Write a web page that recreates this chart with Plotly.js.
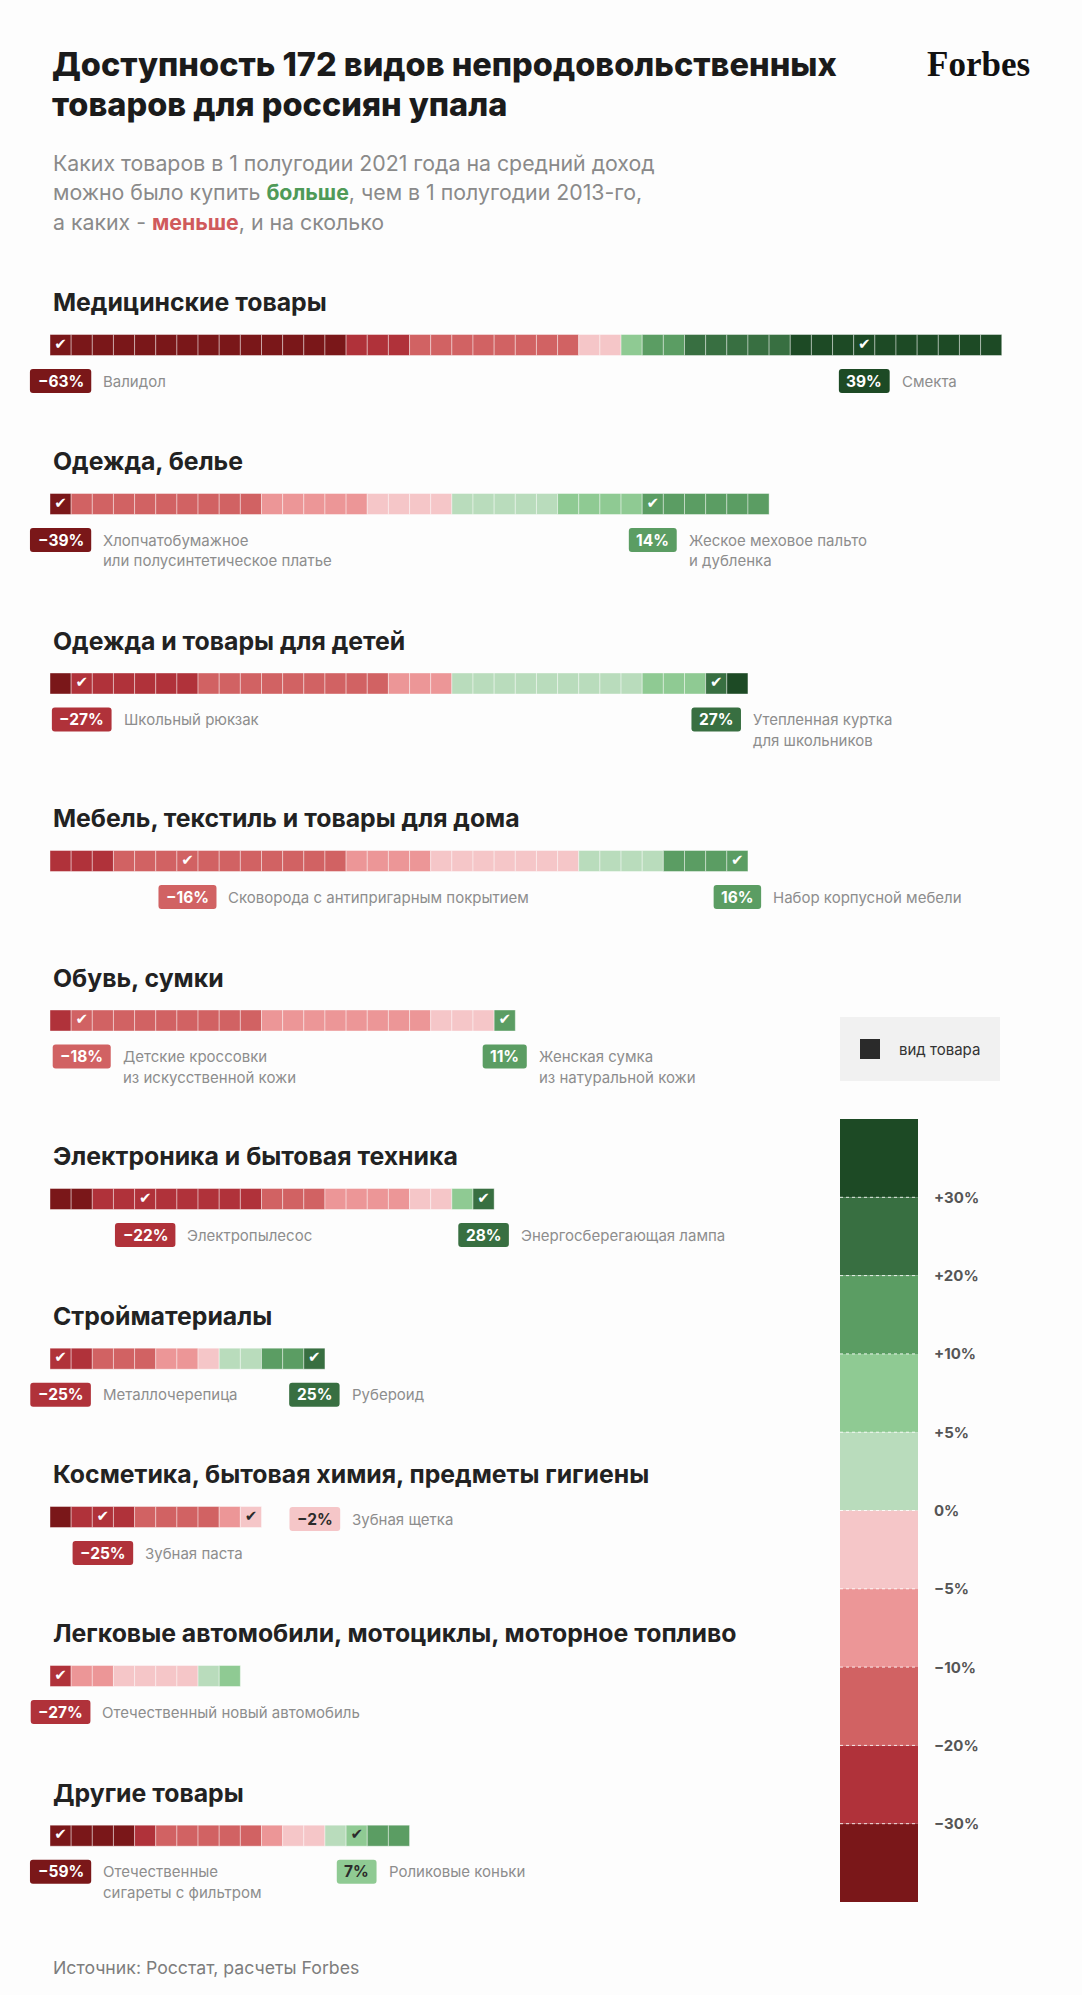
<!DOCTYPE html>
<html><head><meta charset="utf-8">
<script src="https://cdn.plot.ly/plotly-3.0.1.min.js"></script>
<style>html,body{margin:0;padding:0;background:#fdfdfd}</style>
</head><body><div id="chart" style="width:1082px;height:1995px"></div>
<script>
// ---------------- DATA ----------------
const categories = [
  "Медицинские товары",
  "Одежда, белье",
  "Одежда и товары для детей",
  "Мебель, текстиль и товары для дома",
  "Обувь, сумки",
  "Электроника и бытовая техника",
  "Стройматериалы",
  "Косметика, бытовая химия, предметы гигиены",
  "Легковые автомобили, мотоциклы, моторное топливо",
  "Другие товары"
];
// bins: <-30, -30..-20, -20..-10, -10..-5, -5..0, 0..5, 5..10, 10..20, 20..30, >30
const countsMedical     = [14, 3, 8, 0, 2, 0, 1, 2, 5, 10];
const countsClothes     = [1, 0, 9, 5, 4, 5, 4, 6, 0, 0];
const countsKids        = [1, 6, 9, 3, 0, 9, 3, 0, 1, 1];
const countsHome        = [0, 3, 11, 4, 7, 4, 0, 4, 0, 0];
const countsShoes       = [0, 1, 9, 8, 3, 0, 0, 1, 0, 0];
const countsElectronics = [2, 8, 3, 4, 2, 0, 1, 0, 1, 0];
const countsBuilding    = [0, 2, 3, 2, 1, 2, 0, 2, 1, 0];
const countsCosmetics   = [1, 3, 4, 1, 1, 0, 0, 0, 0, 0];
const countsCars        = [0, 1, 0, 2, 4, 1, 1, 0, 0, 0];
const countsOther       = [4, 1, 5, 1, 2, 1, 1, 2, 0, 0];

const lowItem  = ["Валидол", "Хлопчатобумажное\nили полусинтетическое платье", "Школьный рюкзак",
  "Сковорода с антипригарным покрытием", "Детские кроссовки\nиз искусственной кожи", "Электропылесос",
  "Металлочерепица", "Зубная паста", "Отечественный новый автомобиль", "Отечественные\nсигареты с фильтром"];
const lowValue = [-63, -39, -27, -16, -18, -22, -25, -25, -27, -59];
const lowIndex = [0, 0, 1, 6, 1, 4, 0, 2, 0, 0];
const highItem  = ["Смекта", "Жеское меховое пальто\nи дубленка", "Утепленная куртка\nдля школьников",
  "Набор корпусной мебели", "Женская сумка\nиз натуральной кожи", "Энергосберегающая лампа",
  "Рубероид", "Зубная щетка", null, "Роликовые коньки"];
const highValue = [39, 14, 27, 16, 11, 28, 25, -2, null, 7];
const highIndex = [38, 28, 31, 32, 21, 20, 12, 9, null, 14];

const binEdges = [-30, -20, -10, -5, 0, 5, 10, 20, 30];
const scaleTicks = ["+30%", "+20%", "+10%", "+5%", "0%", "−5%", "−10%", "−20%", "−30%"];
const legendItemText = "вид товара";

// ---------------- STYLE / LAYOUT ----------------
const binColors = ["#7a1719", "#b0323a", "#d16263", "#ec9697", "#f5c6c8",
                   "#b9dcbc", "#8fca93", "#5b9d63", "#386f41", "#1d4a25"];
const lightBins = [4, 5, 6];
const W = 1082, H = 1995, S = 21.15, X0 = 50;
const rowY = [345, 504, 683.5, 861, 1020.5, 1199, 1358.7, 1517, 1676, 1835.7];
const inlineHigh = [false, false, false, false, false, false, false, true, false, false];
const FONT = "Inter, 'Noto Sans', sans-serif";
const counts = [countsMedical, countsClothes, countsKids, countsHome, countsShoes,
                countsElectronics, countsBuilding, countsCosmetics, countsCars, countsOther];

function binOf(v) { let b = 0; while (b < binEdges.length && v >= binEdges[b]) b++; return b; }
function fmt(v) { return (v < 0 ? "−" + Math.abs(v) : String(v)) + "%"; }
const ctx = document.createElement("canvas").getContext("2d");
function tw(t, font) { ctx.font = font; return ctx.measureText(t).width; }
function rr(x0, y0, x1, y1, r) {
  return `M${x0+r},${y0} L${x1-r},${y0} Q${x1},${y0} ${x1},${y0+r} L${x1},${y1-r} Q${x1},${y1} ${x1-r},${y1} L${x0+r},${y1} Q${x0},${y1} ${x0},${y1-r} L${x0},${y0+r} Q${x0},${y0} ${x0+r},${y0} Z`;
}

// ---------------- TRACES ----------------
const traces = [];
binColors.forEach((c, b) => {
  const xs = [], ys = [], bases = [];
  counts.forEach((row, r) => {
    const start = row.slice(0, b).reduce((a, v) => a + v, 0);
    for (let k = 0; k < row[b]; k++) { xs.push(1); ys.push(rowY[r]); bases.push(start + k); }
  });
  traces.push({ type: "bar", orientation: "h", x: xs, y: ys, base: bases, width: 21,
    marker: { color: c, line: { color: "rgba(255,255,255,0.4)", width: 1 } }, hoverinfo: "skip" });
});
const chkX = [], chkY = [], chkC = [];
categories.forEach((_, r) => {
  [[lowIndex[r], lowValue[r]], [highIndex[r], highValue[r]]].forEach(([i, v]) => {
    if (i === null) return;
    chkX.push(i + 0.5); chkY.push(rowY[r]);
    chkC.push(lightBins.includes(binOf(v)) ? "#2b2b2b" : "#ffffff");
  });
});
traces.push({ type: "scatter", mode: "text", x: chkX, y: chkY, text: chkX.map(() => "✔"),
  textposition: "middle center", textfont: { family: "DejaVu Sans", size: 15, color: chkC }, hoverinfo: "skip" });

// ---------------- ANNOTATIONS & SHAPES ----------------
const ann = [], shapes = [];
const px = v => v / W;
function txt(x, y, text, size, color, anchor, extra) {
  ann.push(Object.assign({ xref: "paper", yref: "y", x: px(x), y: y, text: text, showarrow: false,
    xanchor: anchor || "left", yanchor: "middle", font: { family: FONT, size: size, color: color } }, extra || {}));
}
// title
txt(50, 64, "Доступность 172 видов непродовольственных", 32.5, "#1b1b1b", "left",
  { font: { family: FONT, size: 32.5, color: "#1b1b1b", weight: 800 } });
txt(50, 104, "товаров для россиян упала", 32.5, "#1b1b1b", "left",
  { font: { family: FONT, size: 32.5, color: "#1b1b1b", weight: 800 } });
ann.push({ xref: "paper", yref: "y", x: px(1032), y: 64, xanchor: "right", yanchor: "middle", showarrow: false,
  text: "<b>Forbes</b>", font: { family: "'Liberation Serif', serif", size: 35, color: "#111" } });
txt(51, 163, "Каких товаров в 1 полугодии 2021 года на средний доход", 21.3, "#8a8a8a");
txt(51, 192, "можно было купить <b><span style='color:#4f9a58'>больше</span></b>, чем в 1 полугодии 2013-го,", 21.3, "#8a8a8a");
txt(51, 221.5, "а каких - <b><span style='color:#d05a5c'>меньше</span></b>, и на сколько", 21.3, "#8a8a8a");
txt(51, 1967, "Источник: Росстат, расчеты Forbes", 17.7, "#7d7d7d");

function badge(r, idx, value, label, inline) {
  const b = binOf(value);
  const t = fmt(value);
  const w = tw(t, "bold 15.5px Inter") + 15;
  const total = counts[r].reduce((a, v) => a + v, 0);
  const ax = inline ? total : idx + 0.5;
  const dx = inline ? 28 + w / 2 : 0;
  const yc = inline ? rowY[r] + 2 : rowY[r] + 36;
  shapes.push({ type: "path", xref: "x", yref: "y", xsizemode: "pixel", ysizemode: "pixel",
    xanchor: ax, yanchor: yc, path: rr(dx - w / 2, -12, dx + w / 2, 12, 3),
    fillcolor: binColors[b], line: { width: 0 }, layer: "above" });
  ann.push({ xref: "x", yref: "y", x: ax, xshift: dx, y: yc, xanchor: "center", yanchor: "middle",
    showarrow: false, text: "<b>" + t + "</b>",
    font: { family: FONT, size: 15.5, color: lightBins.includes(b) ? "#2b2b2b" : "#ffffff" } });
  label.split("\n").forEach((line, i) => {
    ann.push({ xref: "x", yref: "y", x: ax, xshift: dx + w / 2 + 10, y: yc + i * 20.5,
      xanchor: "left", yanchor: "middle", showarrow: false, text: line,
      font: { family: FONT, size: 15, color: "#8d8d8d" } });
  });
}
categories.forEach((name, r) => {
  txt(51, rowY[r] - 43, "<b>" + name + "</b>", 24.8, "#222222");
  badge(r, lowIndex[r], lowValue[r], lowItem[r], false);
  if (highIndex[r] !== null) badge(r, highIndex[r], highValue[r], highItem[r], inlineHigh[r]);
});

// legend: item box
shapes.push({ type: "rect", xref: "paper", yref: "y", x0: px(840), x1: px(1000), y0: 1017, y1: 1081,
  fillcolor: "#f1f1f1", line: { width: 0 }, layer: "below" });
shapes.push({ type: "rect", xref: "paper", yref: "y", x0: px(860), x1: px(880), y0: 1039, y1: 1059,
  fillcolor: "#2a2a2a", line: { width: 0 } });
txt(897, 1049, legendItemText, 15, "#333333");
// legend: colour scale
const sTop = 1119, sH = 78.3;
for (let k = 0; k < binColors.length; k++) {
  const b = binColors.length - 1 - k;
  shapes.push({ type: "rect", xref: "paper", yref: "y", x0: px(840), x1: px(918),
    y0: sTop + k * sH, y1: sTop + (k + 1) * sH, fillcolor: binColors[b], line: { width: 0 } });
}
scaleTicks.forEach((t, k) => {
  const y = sTop + (k + 1) * sH;
  shapes.push({ type: "line", xref: "paper", yref: "y", x0: px(840), x1: px(918), y0: y, y1: y,
    line: { color: "rgba(255,255,255,0.85)", width: 1, dash: "dot" } });
  txt(932, y, "<b>" + t + "</b>", 15, "#555555");
});

const layout = {
  width: W, height: H, margin: { l: 0, r: 0, t: 0, b: 0 },
  paper_bgcolor: "#fdfdfd", plot_bgcolor: "#fdfdfd", showlegend: false, barmode: "overlay",
  xaxis: { range: [-X0 / S, (W - X0) / S], visible: false, fixedrange: true },
  yaxis: { range: [H, 0], visible: false, fixedrange: true },
  annotations: ann, shapes: shapes
};
Plotly.newPlot("chart", traces, layout, { staticPlot: true, displayModeBar: false });
</script></body></html>
